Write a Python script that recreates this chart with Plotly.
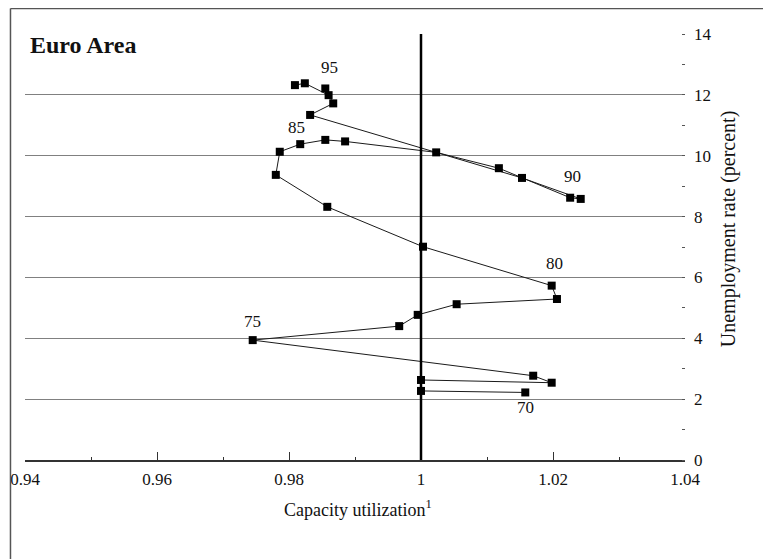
import plotly.graph_objects as go

# ---- data ----
years = list(range(1970, 1999))
capacity_util = [
    1.0158, 1.0000, 1.0000, 1.0198, 1.0170,           # 70-74
    0.9745, 0.9967, 0.9995, 1.0054, 1.0206,           # 75-79
    1.0198, 1.0003, 0.9858, 0.9780, 0.9786,           # 80-84
    0.9817, 0.9855, 0.9885, 1.0023, 1.0118,           # 85-89
    1.0226, 1.0242, 1.0153, 0.9832, 0.9867,           # 90-94
    0.9855, 0.9860, 0.9824, 0.9809,                   # 95-98
]
unemployment = [
    2.22, 2.27, 2.63, 2.54, 2.77,
    3.94, 4.40, 4.77, 5.12, 5.29,
    5.73, 7.01, 8.32, 9.37, 10.13,
    10.38, 10.52, 10.47, 10.11, 9.59,
    8.62, 8.58, 9.27, 11.34, 11.72,
    12.21, 11.99, 12.38, 12.32,
]
labelled_years = [1970, 1975, 1980, 1985, 1990, 1995]
label_text = ["70", "75", "80", "85", "90", "95"]
x_ticks = [0.94, 0.96, 0.98, 1.00, 1.02, 1.04]
x_tick_text = ["0.94", "0.96", "0.98", "1", "1.02", "1.04"]
y_ticks = [0, 2, 4, 6, 8, 10, 12, 14]
reference_x = 1.0

# ---- style ----
FONT = "Liberation Serif"
label_offsets = [(0, -15), (0, 19), (3, 22), (-4, 17), (2, 21), (4, 21)]

fig = go.Figure()
fig.add_trace(go.Scatter(
    x=capacity_util, y=unemployment, mode="lines+markers",
    line=dict(color="#1a1a1a", width=1),
    marker=dict(symbol="square", size=8, color="black"),
    hoverinfo="x+y", showlegend=False,
))

# vertical reference line at capacity utilization = 1
fig.add_shape(type="line", xref="x", yref="y",
              x0=reference_x, x1=reference_x, y0=min(y_ticks), y1=max(y_ticks),
              line=dict(color="black", width=2.5), layer="above")

for yr, txt, (dx, dy) in zip(labelled_years, label_text, label_offsets):
    i = years.index(yr)
    fig.add_annotation(x=capacity_util[i], y=unemployment[i], text=txt,
                       showarrow=False, xshift=dx, yshift=dy,
                       font=dict(family=FONT, size=17, color="#111"))

# title and axis titles
fig.add_annotation(xref="paper", yref="paper", x=0.004, y=0.974,
                   xanchor="left", yanchor="middle", text="<b>Euro Area</b>",
                   showarrow=False, font=dict(family=FONT, size=24, color="#111"))
fig.add_annotation(xref="paper", yref="paper", x=0.505, y=-0.113,
                   xanchor="center", yanchor="middle",
                   text="Capacity utilization<sup>1</sup>",
                   showarrow=False, font=dict(family=FONT, size=18, color="#111"))
fig.add_annotation(xref="paper", yref="paper", x=1.066, y=0.543,
                   xanchor="center", yanchor="middle", textangle=-90,
                   text="Unemployment rate (percent)",
                   showarrow=False, font=dict(family=FONT, size=20, color="#111"))

# figure frame (left and top edges)
fig.add_shape(type="line", xref="paper", yref="paper",
              x0=-0.022, x1=-0.022, y0=-0.24, y1=1.06,
              line=dict(color="#555", width=1.5))
fig.add_shape(type="line", xref="paper", yref="paper",
              x0=-0.022, x1=1.14, y0=1.06, y1=1.06,
              line=dict(color="#555", width=1.5))

fig.update_layout(
    width=763, height=551,
    margin=dict(l=17, r=86, t=26, b=99, autoexpand=False),
    paper_bgcolor="white", plot_bgcolor="white",
    font=dict(family=FONT, size=17, color="#111"),
    xaxis=dict(
        range=[0.94, 1.04], tickvals=x_ticks, ticktext=x_tick_text,
        showgrid=False, zeroline=False, automargin=False,
        showline=True, linecolor="#333", linewidth=1.5,
        ticks="inside", ticklen=8, tickcolor="#333", tickwidth=1,
        minor=dict(ticks="inside", ticklen=3, dtick=0.01, tickcolor="#333", showgrid=False),
        ticklabelstandoff=3,
        tickfont=dict(family=FONT, size=17),
    ),
    yaxis=dict(
        range=[0, 14], tickvals=y_ticks, side="right",
        showgrid=True, gridcolor="#808080", gridwidth=1,
        zeroline=False, showline=False, automargin=False,
        ticks="",
        minor=dict(ticks="inside", ticklen=3, dtick=1, tickcolor="#555", showgrid=False),
        ticklabelstandoff=8,
        tickfont=dict(family=FONT, size=17),
    ),
)

fig.write_html("out.html")
